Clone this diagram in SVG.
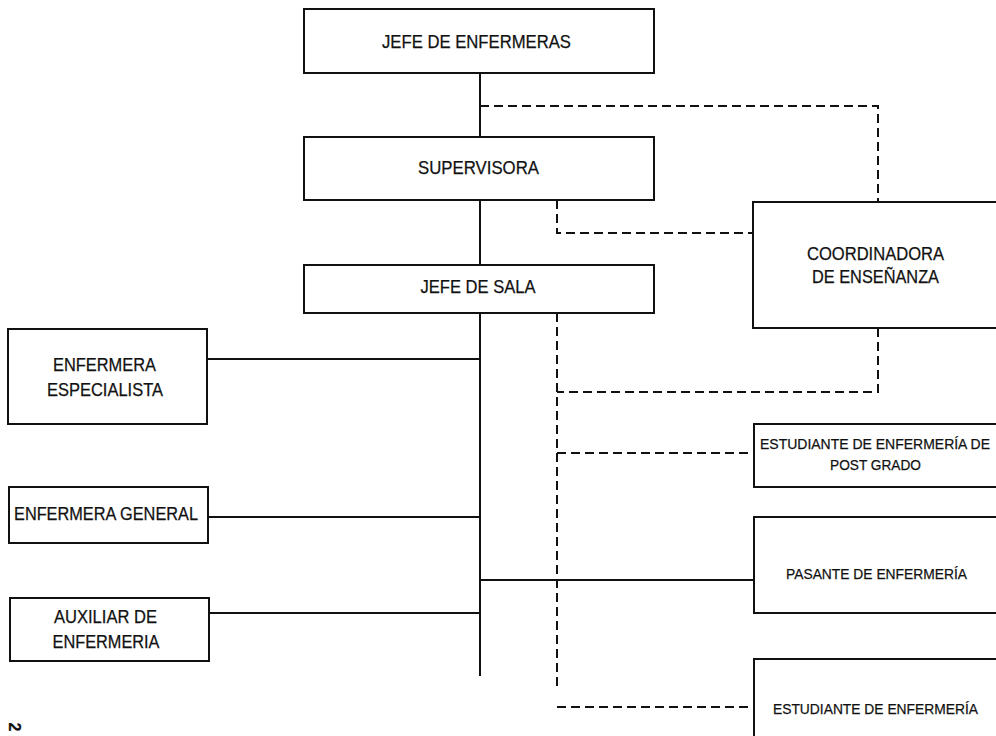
<svg xmlns="http://www.w3.org/2000/svg" width="996" height="736" viewBox="0 0 996 736">
<style>
.box{fill:#fff;stroke:#111;stroke-width:2}
.t{font-family:"Liberation Sans",Arial,sans-serif;fill:#111;text-anchor:middle;stroke:#111;stroke-width:0.25}
.m{font-size:18.5px}
.s{font-size:15.5px}
.solid{fill:none;stroke:#111;stroke-width:2}
.dash{fill:none;stroke:#111;stroke-width:2;stroke-dasharray:9 5}
</style>
<rect width="996" height="736" fill="#fff"/>
<g id="connectors">
<path class="solid" d="M480 73V137M480 200V265M480 313V676M207 359H480M208 517H480M209 613H480M480 580H754"/>
<path class="dash" d="M480 106H878V202"/>
<path class="dash" d="M557 200V233H753"/>
<path class="dash" d="M878 328V392H557"/>
<path class="dash" d="M557 313V690"/>
<path class="dash" d="M557 453H754"/>
<path class="dash" d="M557 707H754"/>
</g>
<g id="jefe-enfermeras">
<rect class="box" x="304" y="9" width="350" height="64"/>
<text class="t m" x="476.5" y="48" textLength="189" lengthAdjust="spacingAndGlyphs">JEFE DE ENFERMERAS</text>
</g>
<g id="supervisora">
<rect class="box" x="304" y="137" width="350" height="63"/>
<text class="t m" x="478.5" y="174" textLength="121" lengthAdjust="spacingAndGlyphs">SUPERVISORA</text>
</g>
<g id="jefe-sala">
<rect class="box" x="304" y="265" width="350" height="48"/>
<text class="t m" x="478" y="293" textLength="115" lengthAdjust="spacingAndGlyphs">JEFE DE SALA</text>
</g>
<g id="coordinadora">
<path class="box" d="M996 202H753V328H996"/>
<text class="t m" x="875.5" y="260" textLength="137" lengthAdjust="spacingAndGlyphs">COORDINADORA</text>
<text class="t m" x="875.5" y="283" textLength="127" lengthAdjust="spacingAndGlyphs">DE ENSEÑANZA</text>
</g>
<g id="enfermera-especialista">
<rect class="box" x="8" y="329" width="199" height="95"/>
<text class="t m" x="104.5" y="371" textLength="103" lengthAdjust="spacingAndGlyphs">ENFERMERA</text>
<text class="t m" x="105" y="396" textLength="116" lengthAdjust="spacingAndGlyphs">ESPECIALISTA</text>
</g>
<g id="enfermera-general">
<rect class="box" x="9" y="487" width="199" height="56"/>
<text class="t m" x="106" y="520" textLength="184" lengthAdjust="spacingAndGlyphs">ENFERMERA GENERAL</text>
</g>
<g id="auxiliar">
<rect class="box" x="10" y="598" width="199" height="63"/>
<text class="t m" x="105.5" y="623" textLength="103" lengthAdjust="spacingAndGlyphs">AUXILIAR DE</text>
<text class="t m" x="106" y="648" textLength="107" lengthAdjust="spacingAndGlyphs">ENFERMERIA</text>
</g>
<g id="estudiante-posgrado">
<path class="box" d="M996 424H754V487H996"/>
<text class="t s" x="875" y="449" textLength="230" lengthAdjust="spacingAndGlyphs">ESTUDIANTE DE ENFERMERÍA DE</text>
<text class="t s" x="875.5" y="470" textLength="91" lengthAdjust="spacingAndGlyphs">POST GRADO</text>
</g>
<g id="pasante">
<path class="box" d="M996 517H754V613H996"/>
<text class="t s" x="876.5" y="579" textLength="181" lengthAdjust="spacingAndGlyphs">PASANTE DE ENFERMERÍA</text>
</g>
<g id="estudiante">
<path class="box" d="M996 659H754V736"/>
<text class="t s" x="875.5" y="714" textLength="205" lengthAdjust="spacingAndGlyphs">ESTUDIANTE DE ENFERMERÍA</text>
</g>
<text class="t" x="0" y="0" font-size="16" font-weight="bold" transform="translate(9 727) rotate(90)">2</text>
</svg>
